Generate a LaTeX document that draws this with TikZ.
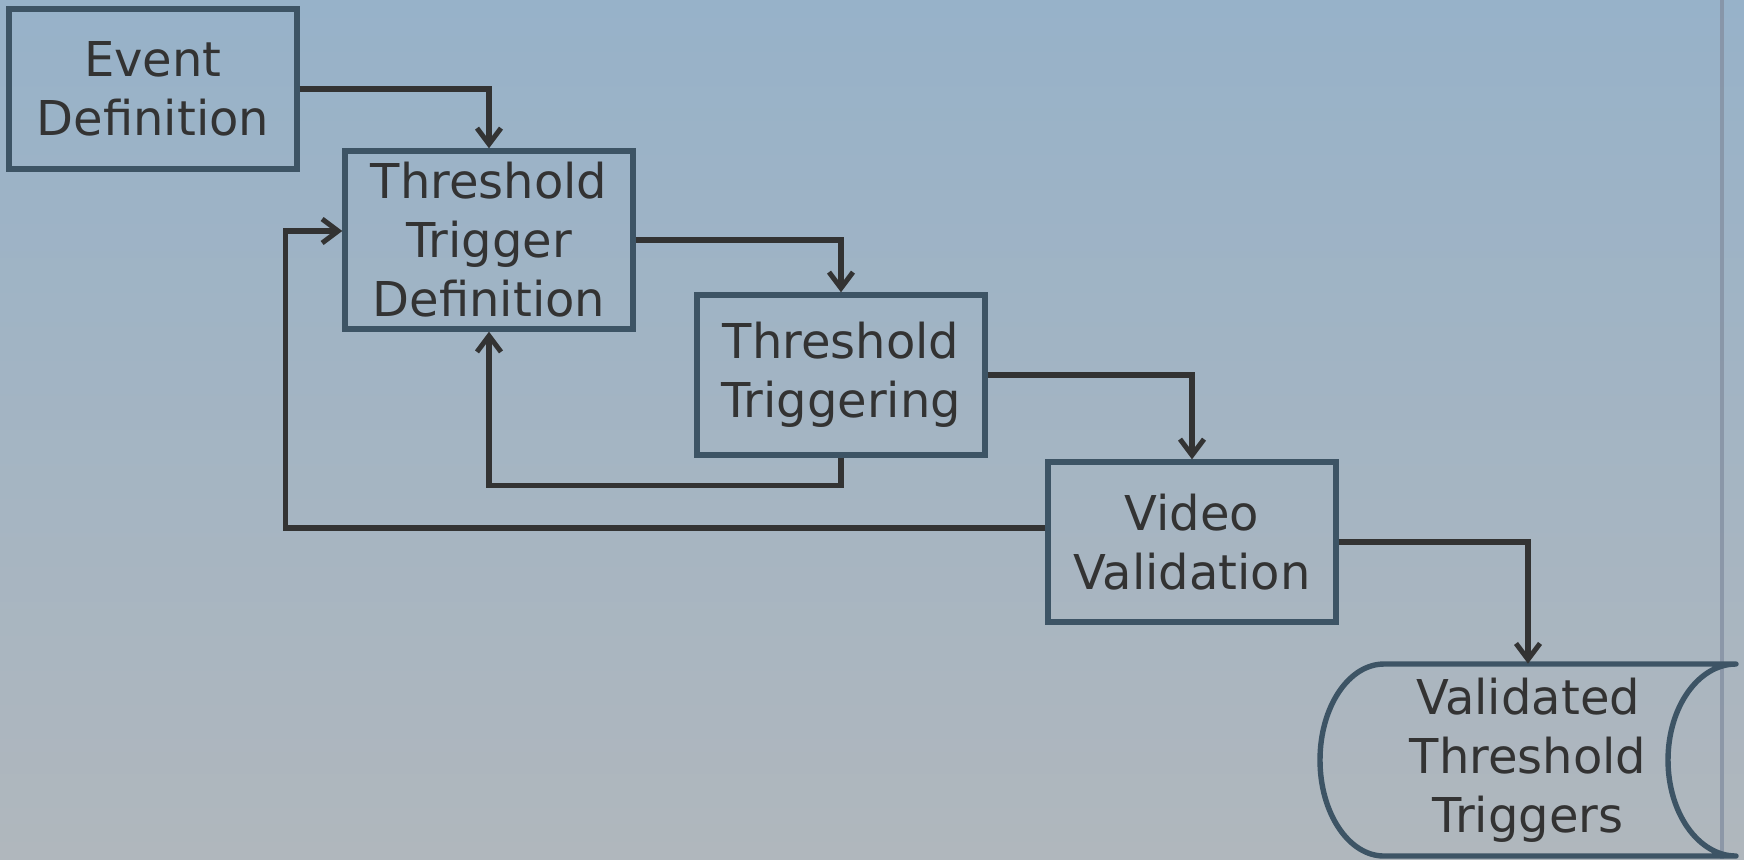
\documentclass[tikz,border=0pt]{standalone}
\usepackage{fontspec}
\setmainfont{DejaVu Sans}
\usetikzlibrary{arrows.meta,positioning,calc}
\definecolor{skytop}{RGB}{151,178,201}
\definecolor{skymid}{RGB}{152,177,199}
\definecolor{skylow}{RGB}{176,183,189}
\definecolor{boxedge}{RGB}{61,84,101}
\definecolor{inkgrey}{RGB}{51,51,51}
\definecolor{poleline}{RGB}{132,144,162}

\begin{document}
\begin{tikzpicture}[x=0.5pt,y=-0.5pt,
    stage/.style={draw=boxedge,line width=2.7pt,minimum width=144pt,
      minimum height=80pt,align=center,text=inkgrey,
      font=\fontsize{24}{29.5}\selectfont},
    store/.style={minimum width=207pt,minimum height=96pt,align=center,
      text=inkgrey,font=\fontsize{24}{29.5}\selectfont},
    arr/.style={draw=inkgrey,line width=2.7pt,
      -{Straight Barb[length=8pt,width=12pt,line width=2.5pt]}}
  ]
    % backdrop
    \shade[top color=skytop,middle color=skymid,bottom color=skylow]
      (0,0) rectangle (1744,859);
    \useasboundingbox (0,0) rectangle (1744,859);
    \draw[poleline,line width=2pt,opacity=0.8] (1722,0) -- (1722,859);

    \node[stage] (evt) at (153,89) {Event\\Definition};
    \node[stage,minimum height=89pt] (ttd) at (489,240) {Threshold\\Trigger\\Definition};
    \node[stage] (trig) at (841,375) {Threshold\\Triggering};
    \node[stage] (vid) at (1192,542) {Video\\Validation};
    \node[store] (out) at (1528,760) {Validated\\Threshold\\Triggers};

    % stored data outline
    \draw[boxedge,line width=2.7pt,line join=round]
      (1384,664) -- (1736,664)
      arc[start angle=90,end angle=270,x radius=68,y radius=-96]
      -- (1384,856)
      arc[start angle=270,end angle=90,x radius=64,y radius=-96] -- cycle;

    \draw[arr] (evt.east) -| (ttd.north);
    \draw[arr] (ttd.east) -| (trig.north);
    \draw[arr] (trig.east) -| (vid.north);
    \draw[arr] (vid.east) -| (out.north);

    % feedback loops
    \draw[arr] (trig.south) -- ++(0,28) -| (ttd.south);
    \draw[arr] ([yshift=7pt]vid.west) -- ++(-760,0) |- ([yshift=4.5pt]ttd.west);
  \end{tikzpicture}
\end{document}
